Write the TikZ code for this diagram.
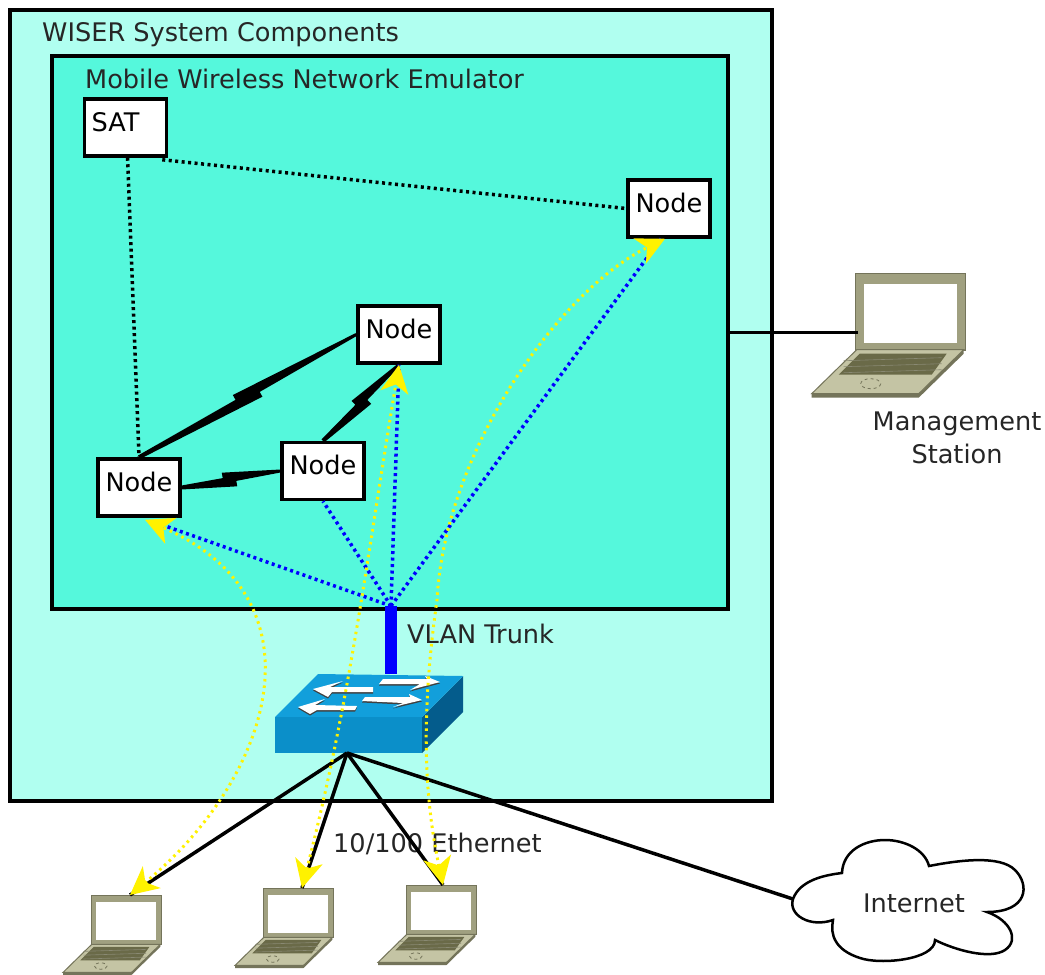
\documentclass[tikz,border=0pt]{standalone}
\usepackage{fontspec}
\setmainfont{DejaVu Sans}
\usetikzlibrary{arrows.meta,calc}
\definecolor{outerfill}{HTML}{B0FFF0}
\definecolor{innerfill}{HTML}{55F8DC}
\definecolor{lidcol}{HTML}{A0A080}
\definecolor{lidedge}{HTML}{74745A}
\definecolor{basecol}{HTML}{C4C4A4}
\definecolor{keycol}{HTML}{6A6A48}
\definecolor{swtopcol}{HTML}{129FDB}
\definecolor{swfrontcol}{HTML}{0B8FC9}
\definecolor{swsidecol}{HTML}{045C8C}
\tikzset{
 panel/.style={draw=black,line width=3.5pt,inner sep=0pt},
 boxnode/.style={draw=black,fill=white,line width=3.5pt,minimum width=82pt,minimum height=57pt,inner sep=0pt,text height=17pt,text depth=10pt},
 plain/.style={inner sep=0pt,text=black!85},
 satlink/.style={black,line width=3.5pt,dash pattern=on 3pt off 3.5pt},
 vlanlink/.style={blue,line width=3.5pt,dash pattern=on 3pt off 3.5pt},
 flowlink/.style={yellow,line width=3pt,dash pattern=on 2.5pt off 4pt,{Stealth[length=28pt,width=28pt,inset=8pt]}-{Stealth[length=28pt,width=28pt,inset=8pt]}},
 lanlink/.style={black,line width=3.5pt},
 laptop/.pic={
  \fill[lidcol,draw=lidedge,line width=1pt] (44,1) -- (154,1) -- (154,78) -- (44,78) -- cycle;
  \fill[white] (52,11) rectangle (145,70);
  \fill[lidedge] (0,121) -- (107,121) -- (152,77) -- (152,81) -- (107,125) -- (0,125) -- cycle;
  \fill[basecol,draw=lidedge,line width=1pt] (45,77) -- (152,77) -- (107,121) -- (0,121) -- cycle;
  \fill[keycol] (48,81) -- (135,81) -- (120,102) -- (27,102) -- cycle;
  \foreach \k in {86,92,98}{\draw[basecol!70!black,line width=.6pt] (32,\k+2) -- (130,\k-1);}
  \draw[lidedge,line width=.8pt,dashed] (59,111) ellipse (10 and 5);
 }
}
\newcommand{\boltlink}[4]{\fill[black] ($(#1)!2pt!-90:(#2)$) -- ($(#1)!2pt!90:(#2)$) -- ($(#1)!#3!(#2)!2.5pt!90:(#2)$) -- ($(#1)!#3!(#2)!8pt!90:(#2)$) -- ($(#2)!1.5pt!-90:(#1)$) -- ($(#2)!1.5pt!90:(#1)$) -- ($(#1)!#4!(#2)!2.5pt!-90:(#2)$) -- ($(#1)!#4!(#2)!8pt!-90:(#2)$) -- cycle;}
\begin{document}
\begin{tikzpicture}[x=1pt,y=-1pt,font=\fontsize{25.6}{30}\selectfont]
\useasboundingbox (0,0) rectangle (1045,975);
\fill[white] (0,0) rectangle (1045,975);
\node[panel,fill=outerfill,minimum width=762pt,minimum height=791pt] (wiser) at (391,405.5) {};
\node[panel,fill=innerfill,minimum width=676pt,minimum height=553pt] (emul) at (390,332.5) {};
\node[plain,anchor=west] (wisertxt) at (42,35) {WISER System Components};
\node[plain,anchor=west] (emultxt) at (85,79) {Mobile Wireless Network Emulator};
\node[plain,anchor=west] (vlantxt) at (407,634) {VLAN Trunk};
\node[plain,anchor=west] (ethtxt) at (333,844) {10/100 Ethernet};
\node[plain,align=center] (mgmttxt) at (957,438) {Management\\[3pt]Station};
\node[boxnode] (sat) at (125.5,127.5) {SAT\rule{20pt}{0pt}};
\node[boxnode] (nodetr) at (669,208.5) {Node};
\node[boxnode] (nodem) at (399,334.5) {Node};
\node[boxnode] (nodel) at (139,487.5) {Node};
\node[boxnode] (nodec) at (323,471) {Node};
\coordinate (hub) at (391,606);
\coordinate (swtop) at (391,674);
\coordinate (swbot) at (347,753);
\coordinate (mgmt) at (858,333);
\coordinate (pca) at (130,895);
\coordinate (pcb) at (302,888);
\coordinate (pcc) at (443,885);
\coordinate (cloudw) at (793,899);
\pic at (811.7,272.7) {laptop};
\pic[scale=.64] at (63,895) {laptop};
\pic[scale=.64] at (235,888) {laptop};
\pic[scale=.64] at (378,885) {laptop};
\draw[fill=white,line width=2.5pt] (cloudw) .. controls (800,880) and (825,875) .. (842,873) .. controls (843,850) and (865,840) .. (885,840) .. controls (905,840) and (925,850) .. (929,866) .. controls (960,860) and (1000,855) .. (1015,870) .. controls (1030,885) and (1028,912) .. (987,912) .. controls (1010,920) and (1020,940) .. (1005,950) .. controls (990,960) and (955,950) .. (935,940) .. controls (935,960) and (880,965) .. (860,958) .. controls (835,950) and (830,935) .. (833,920) .. controls (810,928) and (788,915) .. (cloudw) -- cycle;
\node[plain] (inet) at (914,903) {Internet};
\draw[satlink] ($(sat.south)+(2,0)$) -- (nodel.north);
\draw[satlink] ($(sat.south east)+(-6,2)$) -- (nodetr.west);
\boltlink{nodel.east}{nodec.west}{.42}{.55}
\boltlink{nodel.north}{nodem.west}{.45}{.55}
\boltlink{nodec.north}{nodem.south}{.45}{.56}
\draw[vlanlink] (hub) -- ($(nodel.south)+(20,6)$);
\draw[vlanlink] (hub) -- (nodec.south);
\draw[vlanlink] (hub) -- (nodem.south);
\draw[vlanlink] (hub) -- ($(nodetr.south)+(-8,0)$);
\draw[blue,line width=12pt] (hub) -- (swtop);
\draw[lanlink] (emul.east) -- (emul.east -| mgmt);
\fill[swsidecol] (422,717) -- (463,676) -- (463,712) -- (422,753) -- cycle;
\fill[swtopcol] (318,674) -- (463,676) -- (422,717) -- (275,717) -- cycle;
\fill[swfrontcol] (275,717) rectangle (422,753);
\foreach \a in {
 {(313,689) -- (343,681) -- (330,687) -- (373,687) -- (373,692) -- (332,692) -- (328,697)},
 {(440,682) -- (425,676) -- (427,679) -- (383,679) -- (379,684) -- (420,684) -- (410,690)},
 {(298,707) -- (325,699) -- (315,705) -- (357,706) -- (355,710) -- (317,710) -- (310,714)},
 {(422,700) -- (409,694) -- (410,697) -- (365,697) -- (362,701) -- (403,703) -- (393,707)}
}{\fill[black!75,shift={(0,1.5)}] \a -- cycle; \fill[white] \a -- cycle;}
\draw[lanlink] (swbot) -- (pca);
\draw[lanlink] (swbot) -- (pcb);
\draw[lanlink] (swbot) -- (pcc);
\draw[lanlink] (swbot) -- (cloudw);
\draw[flowlink] (pca) .. controls (270,780) and (330,600) .. ($(nodel.south)+(6,2)$);
\draw[flowlink] (pcb) .. controls (350,700) and (365,570) .. (nodem.south);
\draw[flowlink] (pcc) .. controls (425,800) and (420,720) .. (437,600) .. controls (445,450) and (560,290) .. ($(nodetr.south)+(-4,0)$);
\end{tikzpicture}
\end{document}
